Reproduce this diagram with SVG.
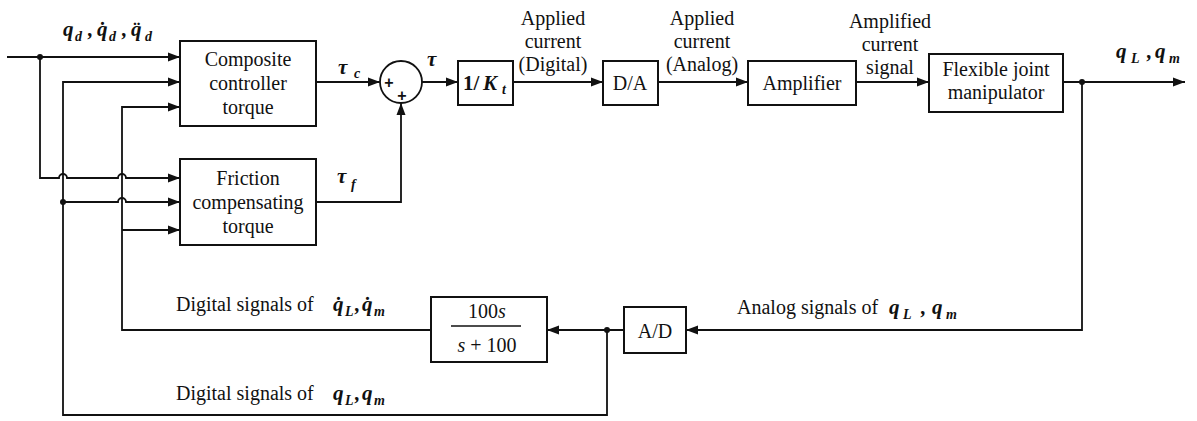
<svg xmlns="http://www.w3.org/2000/svg" width="1197" height="421" viewBox="0 0 1197 421">
<style>
.box{fill:#fff;stroke:#111;stroke-width:2}
.ln{fill:none;stroke:#111;stroke-width:1.8}
.t{font-family:"Liberation Serif","Times New Roman",serif;font-size:20px;fill:#111;text-anchor:middle}
.l{font-family:"Liberation Serif","Times New Roman",serif;font-size:20px;fill:#111}
.m{font-family:"Liberation Serif","Times New Roman",serif;font-style:italic;font-weight:bold;font-size:21px;fill:#111}
.s{font-size:14px}
.p{font-family:"Liberation Sans",Arial,sans-serif;font-size:16px;font-weight:bold;fill:#111;text-anchor:middle}
</style>
<defs>
<marker id="ah" viewBox="0 0 12 10" refX="12" refY="5" markerWidth="12" markerHeight="10" markerUnits="userSpaceOnUse" orient="auto">
<path d="M0,0.5 L12,5 L0,9.5 z" fill="#111"/>
</marker>
</defs>
<rect width="1197" height="421" fill="#fff"/>

<g id="connectors">
<path class="ln" d="M7,57 H180" marker-end="url(#ah)"/>
<path class="ln" d="M40,57 V178 H59 a4,4 0 0 1 8,0 H118 a4,4 0 0 1 8,0 H180" marker-end="url(#ah)"/>
<path class="ln" d="M607,330 V415 H63 V82 H180" marker-end="url(#ah)"/>
<path class="ln" d="M63,202 H118 a4,4 0 0 1 8,0 H180" marker-end="url(#ah)"/>
<path class="ln" d="M431,330 H122 V107 H180" marker-end="url(#ah)"/>
<path class="ln" d="M122,230 H180" marker-end="url(#ah)"/>
<path class="ln" d="M316,82 H380" marker-end="url(#ah)"/>
<path class="ln" d="M316,202 H401 V103" marker-end="url(#ah)"/>
<path class="ln" d="M422,82 H458" marker-end="url(#ah)"/>
<path class="ln" d="M513,82 H603" marker-end="url(#ah)"/>
<path class="ln" d="M658,82 H748" marker-end="url(#ah)"/>
<path class="ln" d="M856,82 H929" marker-end="url(#ah)"/>
<path class="ln" d="M1063,82 H1185" marker-end="url(#ah)"/>
<path class="ln" d="M1082,82 V330 H686" marker-end="url(#ah)"/>
<path class="ln" d="M624,330 H547" marker-end="url(#ah)"/>
<circle cx="40" cy="57" r="3" fill="#111"/>
<circle cx="63" cy="202" r="3" fill="#111"/>
<circle cx="1082" cy="82" r="3" fill="#111"/>
<circle cx="607" cy="330" r="3" fill="#111"/>
</g>

<g id="input-label">
<text class="m"><tspan x="63" y="36">q</tspan><tspan class="s" x="75" y="41">d</tspan><tspan x="88" y="36">,</tspan><tspan x="97" y="36">q̇</tspan><tspan class="s" x="109" y="41">d</tspan><tspan x="122" y="36">,</tspan><tspan x="131" y="36">q̈</tspan><tspan class="s" x="145" y="41">d</tspan></text>
</g>

<g id="composite">
<rect class="box" x="180" y="41" width="136" height="85"/>
<text class="t" x="248" y="66">Composite</text>
<text class="t" x="248" y="90">controller</text>
<text class="t" x="248" y="114">torque</text>
</g>

<g id="friction">
<rect class="box" x="180" y="159" width="136" height="86"/>
<text class="t" x="248" y="185">Friction</text>
<text class="t" x="248" y="209">compensating</text>
<text class="t" x="248" y="233">torque</text>
</g>

<g id="tau-labels">
<text class="m"><tspan x="338" y="74">τ</tspan><tspan class="s" x="354" y="78">c</tspan></text>
<text class="m" x="427" y="66">τ</text>
<text class="m"><tspan x="337" y="183">τ</tspan><tspan class="s" x="351" y="189">f</tspan></text>
</g>

<g id="sum">
<circle cx="401" cy="82" r="21" fill="#fff" stroke="#111" stroke-width="1.8"/>
<text class="p" x="389" y="88">+</text>
<text class="p" x="402" y="101">+</text>
</g>

<g id="gain">
<rect class="box" x="458" y="61" width="55" height="44"/>
<text class="m" y="90"><tspan x="463" font-style="normal">1/</tspan><tspan x="483">K</tspan><tspan class="s" x="502" y="94">t</tspan></text>
</g>

<g id="applied-digital">
<text class="t" x="553" y="25">Applied</text>
<text class="t" x="553" y="48">current</text>
<text class="t" x="553" y="71">(Digital)</text>
</g>

<g id="da">
<rect class="box" x="603" y="61" width="55" height="44"/>
<text class="t" x="630" y="90">D/A</text>
</g>

<g id="applied-analog">
<text class="t" x="702" y="25">Applied</text>
<text class="t" x="702" y="48">current</text>
<text class="t" x="702" y="71">(Analog)</text>
</g>

<g id="amplifier">
<rect class="box" x="748" y="61" width="108" height="44"/>
<text class="t" x="802" y="90">Amplifier</text>
</g>

<g id="amplified-label">
<text class="t" x="890" y="28">Amplified</text>
<text class="t" x="890" y="51">current</text>
<text class="t" x="890" y="74">signal</text>
</g>

<g id="manipulator">
<rect class="box" x="929" y="54" width="134" height="58"/>
<text class="t" x="996" y="76">Flexible joint</text>
<text class="t" x="996" y="99">manipulator</text>
</g>

<g id="output-label">
<text class="m"><tspan x="1116" y="58">q</tspan><tspan class="s" x="1131" y="63">L</tspan><tspan x="1147" y="58">,</tspan><tspan x="1155" y="58">q</tspan><tspan class="s" x="1169" y="63">m</tspan></text>
</g>

<g id="ad">
<rect class="box" x="624" y="307" width="62" height="46"/>
<text class="t" x="655" y="338">A/D</text>
</g>

<g id="analog-label">
<text class="l" x="737" y="314">Analog signals of</text>
<text class="m"><tspan x="889" y="314">q</tspan><tspan class="s" x="903" y="319">L</tspan><tspan x="921" y="314">,</tspan><tspan x="932" y="314">q</tspan><tspan class="s" x="946" y="319">m</tspan></text>
</g>

<g id="filter">
<rect class="box" x="431" y="297" width="116" height="65"/>
<text class="t" x="487" y="318" font-size="22">100<tspan font-style="italic">s</tspan></text>
<line x1="451" y1="326" x2="521" y2="326" stroke="#111" stroke-width="1.4"/>
<text class="t" x="487" y="352" font-size="22"><tspan font-style="italic">s</tspan> + 100</text>
</g>

<g id="velocity-label">
<text class="l" x="176" y="311">Digital signals of</text>
<text class="m"><tspan x="333" y="311">q̇</tspan><tspan class="s" x="345" y="316">L</tspan><tspan x="355" y="311">,</tspan><tspan x="362" y="311">q̇</tspan><tspan class="s" x="374" y="316">m</tspan></text>
</g>

<g id="position-label">
<text class="l" x="176" y="400">Digital signals of</text>
<text class="m"><tspan x="333" y="400">q</tspan><tspan class="s" x="345" y="405">L</tspan><tspan x="355" y="400">,</tspan><tspan x="362" y="400">q</tspan><tspan class="s" x="374" y="405">m</tspan></text>
</g>
</svg>
